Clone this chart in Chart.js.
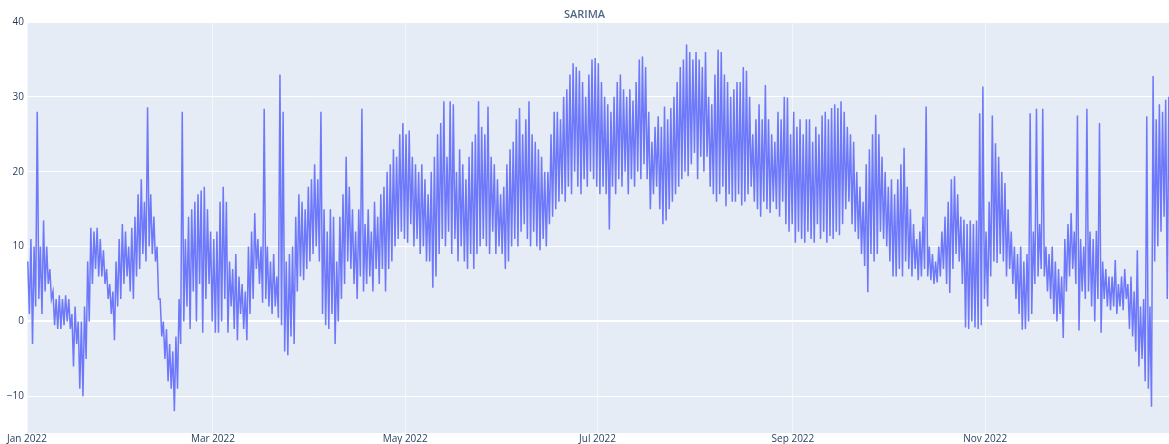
<!DOCTYPE html>
<html>
<head>
<meta charset="utf-8">
<title>SARIMA</title>
<script src="https://cdn.jsdelivr.net/npm/chart.js@4.4.1/dist/chart.umd.min.js"></script>
<style>
    html, body { margin: 0 ; padding: 0 ; background: #ffffff ; }
    canvas { display: block ; }
</style>
</head>
<body>
<canvas id="sarimaChartCanvas" width="1169" height="444"></canvas>
<script>

    // ---------------- Data ---------------------------------------------------
    // Day index counted from 1 Jan 2022. One daily high and one daily low.
    const dailyHigh = [
        8, 11, 10, 28, 10, 13.5, 10, 7, 4, 3,
        3.5, 3, 3.5, 3, 1, 2, 0, 0, 2, 8,
        12.5, 12, 12.5, 11, 9.5, 7, 5, 4, 8, 11,
        13, 12, 10, 12.5, 14, 17, 19, 16, 28.6, 17,
        14, 10, 3, 0, -1, -3, -4, -2, 3, 28,
        11, 14, 15, 16, 17, 17.5, 18, 15, 12, 11,
        12, 16, 18, 16, 8, 7, 9, 6, 5, 4,
        10, 12, 14.5, 11, 10, 28.4, 10, 8, 9, 6,
        33, 28, 8, 9, 10, 14, 17, 16, 15, 18,
        19, 21, 19, 28, 15, 12, 15, 14, 8, 14,
        17, 22, 18, 15, 12, 15, 28.4, 13, 15, 12,
        16, 14, 17, 18, 20, 21, 23, 22, 25, 26.5,
        25, 25.5, 22, 21, 20, 21, 19, 17, 20, 22,
        25, 26.5, 29.4, 22, 29.4, 29, 20, 23, 21, 19,
        22, 24, 25, 29.4, 26, 25, 28.7, 22, 21, 19,
        17, 18, 21, 23, 24, 27, 28.5, 25, 27, 29.4,
        25, 24, 23, 22, 20, 20, 25, 28, 28, 27,
        30, 31, 33, 34.5, 34, 33.5, 32, 30, 33, 35,
        35.2, 34.5, 32, 30, 29, 28, 30, 32, 33, 31,
        30, 31, 29.5, 32, 35, 35.4, 34, 28, 24, 26,
        27.4, 26, 28.7, 27, 28.5, 30, 32, 34, 35, 37,
        36, 35, 36, 35, 34, 36, 30, 29, 33, 36.3,
        36, 33, 32, 30, 31, 32, 32, 34, 33.5, 30,
        25, 27, 29, 27, 31.6, 27, 25, 24, 28, 27,
        30, 29.9, 25, 28, 26, 27, 25, 27, 27, 24,
        26, 25, 27.5, 28, 27, 28.5, 29, 28.5, 29.4, 28,
        26, 25, 24, 20, 18, 16, 21, 23, 25, 27.6,
        25, 22, 20, 18, 19, 17, 19, 21, 23.2, 18,
        15, 13, 11, 12, 14, 28.7, 10, 9, 8, 10,
        12, 14, 16, 19, 19.4, 17, 14, 13.6, 13, 13.5,
        13, 13.5, 27.8, 31.4, 12, 16, 27.5, 23.8, 22, 20,
        18.5, 15, 12, 10, 9, 10, 8, 9, 27.8, 12,
        28.4, 13, 28.4, 10, 9, 10, 8, 7, 6, 11,
        13, 14.5, 12, 27.5, 11, 10, 28.4, 12, 11, 12.1,
        26.5, 8, 7, 6, 6, 8.2, 5, 6, 7, 5,
        6, 4, 9.5, 2, 3, 27.4, 2, 32.8, 27, 29,
        28, 29.6, 30
    ] ;

    const dailyLow = [
        1, -3, 2, 3, 1, 4, 5, 3, -0.5, -1,
        -1, -0.5, 0, -1, -6, -3, -9, -10, -5, 0,
        5, 7, 6, 6, 5, 3, 1, -2.5, 2, 3,
        5, 6, 4, 3, 6, 7, 9, 8, 10, 9,
        8, 3, -2, -5, -8, -9, -12, -9, -3, 0,
        2, -1, 4, 0, 5, -1.5, 3, 5, 0, -1.5,
        -1.5, 0, 3, -1.5, 2, -1, -2.5, 1, -1, -2.5,
        1, 3, 7, 5, 2.5, 3, 2, 1, 2, 0.5,
        -0.5, -4, -4.5, -2, -3, 4, 6, 5.5, 7, 8,
        9, 10, 8, 1, -0.5, -1, 1, -3, 0, 3,
        5, 8, 7, 5, 3, 6, 4, 5, 6, 4,
        7, 5, 7, 4, 7, 8, 10, 11, 12, 11,
        10.5, 13, 10, 11, 9, 10, 8, 8, 4.5, 6,
        9, 11, 10, 12, 9, 11, 8, 10, 8, 7,
        9, 7, 9, 10, 11, 10, 9, 12, 9, 10,
        9, 7, 8, 10, 11, 10, 12, 13, 11, 10,
        12, 10, 9.5, 11, 10, 13, 14, 15, 16, 17,
        16, 18, 17, 20, 18, 17, 19, 18, 20, 19,
        18, 17, 18, 17, 12.3, 18, 17, 19, 18, 20,
        17, 19, 18, 20, 19, 21, 19, 15, 17, 18,
        15, 13, 13.5, 15, 16, 17, 18, 19, 20, 19.4,
        21, 22.5, 19, 22, 20, 22, 18, 17, 16, 17,
        18, 15.4, 17, 16, 16, 17, 15.5, 16, 17, 18,
        16, 15, 14, 16, 15, 14.5, 16, 15, 14, 16,
        13, 12, 13, 10.5, 12, 11, 10.5, 12, 11, 10.5,
        13, 11, 12, 10.5, 11.4, 11, 12, 11.5, 13, 15,
        16, 13, 12, 11, 9, 7.4, 3.9, 9, 8, 9,
        12, 11, 10, 8, 6, 6, 7, 6, 8, 7,
        6, 7, 5.5, 6, 7, 6, 5.5, 5, 5.2, 6,
        7, 5, 3.8, 7, 9, 8, 5, -0.8, -1, 0,
        -0.8, -1, -0.5, 3, 2, 6, 8, 7.8, 9, 8,
        6, 7, 5, 3, 1, -1.1, -1, 0, 1, 5,
        6, 7, 6, 4, 3, 1, 0, 1, -2.2, 4,
        6, 7, 5, -1.2, 4, 3, 4, 2, 0, 3,
        -1.5, 3, 2, 1.5, 2, 1, 2, 1.5, 3, -1,
        -2, -4, -6, -5, -8, -9, -11.4, 8, 10, 12,
        14, 3, 10
    ] ;

    // x axis: month ticks (day index from 1 Jan 2022) and their labels
    const monthTickDays   = [ 0, 59, 120, 181, 243, 304 ] ;
    const monthTickLabels = [ "Jan 2022", "Mar 2022", "May 2022", 
                              "Jul 2022", "Sep 2022", "Nov 2022" ] ;
    const valueTicks      = [ -10, 0, 10, 20, 30, 40 ] ;

    // ---------------- Constants ----------------------------------------------
    const CHART_ID   = "sarima" ;
    const LINE_COLOR = 'rgba(99,110,250,0.92)' ;
    const PLOT_BG    = '#E5ECF6' ;
    const TEXT_COLOR = '#2A3F5F' ;
    const X_MIN      = 0 ;
    const X_MAX      = 362.3 ;
    const Y_MIN      = -14.9 ;
    const Y_MAX      = 40 ;

    // ---------------- Local variables ----------------------------------------
    var chart = null ;

    const plotBackgroundPlugin = {
        id: 'plotBackground',
        beforeDraw: function( chart ) {
            var ctx = chart.ctx ;
            var area = chart.chartArea ;
            ctx.save() ;
            ctx.fillStyle = PLOT_BG ;
            ctx.fillRect( area.left, area.top, 
                          area.right - area.left, area.bottom - area.top ) ;
            ctx.restore() ;
        }
    } ;

    // -------------------------------------------------------------------------
    function drawChart() {

        var canvas = document.getElementById( CHART_ID + 'ChartCanvas' ) ;
        chart = new Chart( canvas, {
            type: 'line',
            data: {
                datasets: [ getSarimaDataset() ]
            },
            options: getChartOptions(),
            plugins: [ plotBackgroundPlugin ]
        } ) ;
    }

    // High then low for every day, half a day apart
    function getSarimaPoints() {
        var points = [] ;
        for( var i=0; i<dailyHigh.length; i++ ) {
            points.push( { x: i + 0.25, y: dailyHigh[i] } ) ;
            points.push( { x: i + 0.75, y: dailyLow[i]  } ) ;
        }
        return points ;
    }

    function getSarimaDataset() {
        return {
            label            : 'SARIMA',
            data             : getSarimaPoints(),
            borderColor      : LINE_COLOR,
            backgroundColor  : LINE_COLOR,
            borderWidth      : 1.5,
            tension          : 0,
            radius           : 0,
            fill             : false,
        } ;
    }

    // ------------------- Graph options ---------------------------------------
    function getChartOptions() {
        return {
            responsive : false,
            animation : false,
            layout : { padding: 0 },
            plugins : {
                legend: { display: false },
                tooltip: { enabled: false },
                title: {
                    display: true,
                    text: 'SARIMA',
                    color: '#506784',
                    font: { family: 'Open Sans', size: 11, weight: '600', lineHeight: '15px' },
                    padding: { top: 7, bottom: 0 }
                }
            },
            scales : getScaleOptions()
        } ;
    }

    function getScaleOptions() {
        return {
            x : {
                type: 'linear',
                min: X_MIN,
                max: X_MAX,
                border: { display: false },
                grid: {
                    color: 'rgba(255,255,255,0.55)',
                    lineWidth: 1,
                    drawTicks: false
                },
                afterBuildTicks: function( scale ) {
                    scale.ticks = monthTickDays.map( function( d ) {
                        return { value: d } ;
                    } ) ;
                },
                afterFit: function( scale ) {
                    scale.height = 11 ;
                },
                ticks: {
                    padding: 0,
                    maxRotation: 0,
                    autoSkip: false,
                    color: TEXT_COLOR,
                    font: { family: 'Open Sans', size: 10 },
                    callback: function( value ) {
                        var idx = monthTickDays.indexOf( value ) ;
                        return idx >= 0 ? monthTickLabels[idx] : '' ;
                    }
                }
            },
            y : {
                min: Y_MIN,
                max: Y_MAX,
                border: { display: false },
                grid: {
                    color: '#ffffff',
                    lineWidth: function( ctx ) {
                        return ctx.tick && ctx.tick.value === 0 ? 2 : 1 ;
                    },
                    drawTicks: false
                },
                afterBuildTicks: function( scale ) {
                    scale.ticks = valueTicks.map( function( v ) {
                        return { value: v } ;
                    } ) ;
                },
                afterFit: function( scale ) {
                    scale.width = 27 ;
                },
                ticks: {
                    padding: 3,
                    color: TEXT_COLOR,
                    font: { family: 'Open Sans', size: 10 },
                    callback: function( value ) {
                        return ( value < 0 ? '\u2212' + Math.abs( value ) : '' + value ) ;
                    }
                }
            }
        } ;
    }

    drawChart() ;

</script>
</body>
</html>
